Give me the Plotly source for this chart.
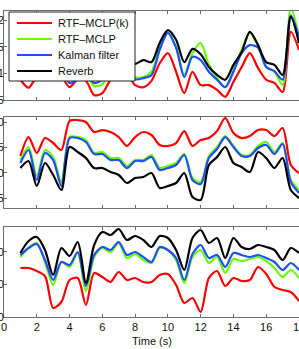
import plotly.graph_objects as go

# ---------------- data ----------------
time_s = [1.0, 1.5, 2.0, 2.5, 3.0, 3.5, 4.0, 4.5, 5.0, 5.5, 6.0, 6.5, 7.0, 7.5, 8.0, 8.5, 9.0,
          9.5, 10.0, 10.5, 11.0, 11.5, 12.0, 12.5, 13.0, 13.5, 14.0, 14.5, 15.0, 15.5, 16.0,
          16.5, 17.0, 17.5, 18.0]

series_names = ["RTF\u2013MCLP(k)", "RTF\u2013MCLP", "Kalman filter", "Reverb"]

# panel 1
p1_rtf_k = [0.88, 0.73, 0.95, 1.10, 1.06, 0.95, 0.74, 0.89, 0.86, 0.59, 0.63, 0.88, 1.03, 0.99, 0.78, 0.74, 0.86,
            1.19, 1.38, 1.03, 0.63, 1.03, 0.78, 0.78, 0.69, 0.56, 0.84, 1.12, 1.38, 1.10, 0.88, 0.82, 0.65, 1.78, 1.44]
p1_rtf = [1.10, 1.03, 1.25, 1.36, 1.33, 1.18, 0.88, 0.95, 0.99, 0.76, 0.80, 1.06, 1.21, 1.14, 0.93, 0.93, 1.03,
          1.48, 1.76, 1.49, 0.97, 1.38, 1.57, 1.16, 0.91, 0.74, 1.06, 1.44, 1.76, 1.53, 1.12, 1.03, 0.78, 2.23, 1.68]
p1_kalman = [1.06, 1.01, 1.21, 1.33, 1.29, 1.14, 0.82, 0.88, 0.97, 0.82, 0.88, 1.10, 1.21, 1.14, 0.89, 0.91, 0.97,
             1.44, 1.76, 1.48, 0.93, 1.31, 1.25, 1.03, 0.88, 0.74, 1.03, 1.38, 1.53, 1.48, 1.12, 1.04, 0.88, 2.09, 1.68]
p1_reverb = [1.25, 1.21, 1.40, 1.51, 1.48, 1.34, 1.06, 1.16, 1.21, 1.06, 1.10, 1.33, 1.44, 1.36, 1.18, 1.25, 1.21,
             1.57, 1.81, 1.63, 1.21, 1.46, 1.36, 1.12, 0.97, 0.88, 1.16, 1.40, 1.78, 1.53, 1.21, 1.16, 0.97, 2.06, 1.57]

# panel 2
p2_rtf_k = [3.29, 7.04, 3.89, 6.84, 5.86, 4.48, 10.20, 10.39, 10.0, 8.03, 8.42, 8.03, 7.04, 5.27, 7.04, 8.03, 7.44,
            5.46, 5.27, 5.86, 8.22, 5.27, 6.45, 6.84, 8.22, 10.79, 7.83, 6.84, 7.24, 8.42, 8.42, 7.24, 8.82, 1.52, -0.06]
p2_rtf = [2.50, 5.07, -0.65, 4.48, 3.10, -1.83, 7.04, 7.04, 6.45, 3.89, 4.08, 2.90, 2.90, 1.32, 2.50, 2.50, 3.49,
          0.93, 1.32, 1.91, 3.69, -1.05, -1.83, 3.29, 5.07, 7.24, 5.27, 3.49, 3.49, 5.27, 6.06, 4.08, 5.86, -1.44, -3.41]
p2_kalman = [1.91, 4.48, -1.44, 3.89, 2.50, -2.62, 6.84, 6.84, 6.06, 3.69, 3.69, 2.50, 2.50, 0.93, 2.31, 2.31, 3.10,
             0.53, 0.93, 1.52, 3.49, -1.44, -2.23, 2.90, 4.67, 7.04, 5.07, 3.29, 3.29, 4.87, 5.46, 3.69, 5.66, -1.83, -4.00]
p2_reverb = [0.93, 2.31, -2.62, 1.91, -0.45, -3.41, 5.07, 4.08, 2.90, 0.93, 0.93, 0.14, -0.45, -2.03, -1.05, -0.85, -0.06,
             -3.02, -2.62, -2.03, -0.06, -4.79, -5.38, 1.52, 3.10, 5.07, 1.91, 1.12, 0.14, 4.08, 2.90, 0.93, 2.90, -3.41, -4.99]

# panel 3
p3_rtf_k = [15.08, 15.08, 14.15, 12.62, 2.77, 4.62, 11.38, 12.0, 3.69, 13.54, 12.31, 10.77, 13.85, 11.38, 12.0, 10.77, 10.77,
            12.92, 13.23, 9.85, 4.31, 5.85, 1.54, 12.0, 14.15, 9.54, 12.0, 11.08, 11.38, 15.38, 13.23, 9.23, 8.31, 7.69, 4.92]
p3_rtf = [18.46, 21.23, 22.77, 16.92, 9.85, 16.92, 15.38, 19.69, 8.0, 18.46, 21.23, 20.0, 22.77, 18.15, 19.38, 17.54, 16.62,
          21.23, 20.62, 17.54, 10.46, 18.46, 20.62, 16.62, 18.46, 13.54, 17.85, 17.23, 17.85, 18.46, 17.23, 15.08, 12.31, 14.46, 12.0]
p3_kalman = [19.08, 21.23, 22.46, 17.54, 11.38, 16.92, 16.0, 20.0, 9.54, 19.08, 21.54, 20.62, 23.08, 19.08, 20.0, 18.46, 16.92,
             21.54, 20.62, 18.15, 11.38, 19.38, 22.15, 18.15, 19.08, 15.38, 19.69, 19.08, 18.46, 19.08, 18.15, 16.92, 14.46, 16.62, 14.46]
p3_reverb = [19.69, 23.38, 24.62, 20.62, 12.92, 21.23, 18.77, 23.08, 10.46, 22.15, 26.15, 25.23, 27.08, 23.69, 24.92, 23.69, 21.54,
             24.92, 24.31, 20.62, 14.46, 24.31, 26.77, 22.77, 24.31, 18.15, 24.31, 21.54, 20.92, 22.15, 21.54, 20.62, 17.54, 21.23, 19.69]

x_ticks = [0, 2, 4, 6, 8, 10, 12, 14, 16, 18]
p1_ticks = [0.5, 1, 1.5, 2]
p2_ticks = [-5, 0, 5, 10]
p3_ticks = [0, 10, 20]

# ---------------- style ----------------
colors = ["#ff0000", "#66ff00", "#1f4fff", "#000000"]
W, H = 299, 349
L = 4
PW = W - L
FONT = "Liberation Sans, Arial, sans-serif"
AX = "#6e6e6e"
LW = 2.2

panels = [
    ([p1_rtf_k, p1_rtf, p1_kalman, p1_reverb], p1_ticks, [0.5, 2.17], (11, 100)),
    ([p2_rtf_k, p2_rtf, p2_kalman, p2_reverb], p2_ticks, [-6.96, 10.99], (117, 208)),
    ([p3_rtf_k, p3_rtf, p3_kalman, p3_reverb], p3_ticks, [0, 27.69], (227, 317)),
]

fig = go.Figure()
layout = {}
for i, (ser, yt, yr, (top, bot)) in enumerate(panels, start=1):
    xa = "x" if i == 1 else f"x{i}"
    ya = "y" if i == 1 else f"y{i}"
    for name, vals, col in zip(series_names, ser, colors):
        fig.add_trace(go.Scatter(
            x=time_s, y=vals, mode="lines", name=name,
            line=dict(color=col, width=LW, shape="spline", smoothing=0.8),
            xaxis=xa, yaxis=ya, showlegend=False, hoverinfo="skip"))
    layout["xaxis" if i == 1 else f"xaxis{i}"] = dict(
        domain=[0, 1], range=[0, 18], anchor=ya, automargin=False,
        tickvals=x_ticks, ticktext=[str(v) for v in x_ticks],
        showticklabels=(i == 3), ticks="inside", ticklen=3, tickcolor=AX,
        ticklabeloverflow="allow",
        showline=True, linecolor=AX, linewidth=1, mirror="ticks",
        showgrid=False, zeroline=False,
        tickfont=dict(family=FONT, size=11, color="#111"),
    )
    layout["yaxis" if i == 1 else f"yaxis{i}"] = dict(
        domain=[1 - bot / H, 1 - top / H], range=yr, anchor=xa, automargin=False,
        tickvals=yt, ticktext=[f"{v:g}" for v in yt],
        ticks="inside", ticklen=3, tickcolor=AX, ticklabelstandoff=-3,
        showline=True, linecolor=AX, linewidth=1, mirror=False,
        showgrid=False, zeroline=False,
        tickfont=dict(family=FONT, size=11, color="#111"),
    )

# legend drawn as a framed box (white, covering the curves, like the original)
shapes = [dict(type="rect", xref="paper", yref="paper",
               x0=(9 - L) / PW, x1=(135 - L) / PW, y0=1 - 81 / H, y1=1 - 12 / H,
               fillcolor="white", line=dict(color="#222", width=1), layer="above")]
annotations = []
legend_rows = [23, 39, 55, 71]
for name, col, row in zip(series_names, colors, legend_rows):
    yy = 1 - row / H
    shapes.append(dict(type="line", xref="paper", yref="paper",
                       x0=(17 - L) / PW, x1=(52 - L) / PW, y0=yy, y1=yy,
                       line=dict(color=col, width=LW), layer="above"))
    annotations.append(dict(text=name, xref="paper", yref="paper", x=(56 - L) / PW, y=yy,
                            xanchor="left", yanchor="middle", showarrow=False,
                            font=dict(family=FONT, size=11, color="#111")))

annotations.append(dict(text="Time (s)", xref="paper", yref="paper", x=0.5, y=1 - 341 / H,
                        xanchor="center", yanchor="middle", showarrow=False,
                        font=dict(family=FONT, size=11, color="#111")))

fig.update_layout(
    width=W, height=H,
    margin=dict(l=L, r=0, t=0, b=0),
    paper_bgcolor="white", plot_bgcolor="white",
    showlegend=False,
    shapes=shapes, annotations=annotations,
    **layout,
)

fig.write_html("out.html", config={"displayModeBar": False, "staticPlot": True},
               post_script="document.body.style.margin='0';document.body.style.overflow='hidden';")
